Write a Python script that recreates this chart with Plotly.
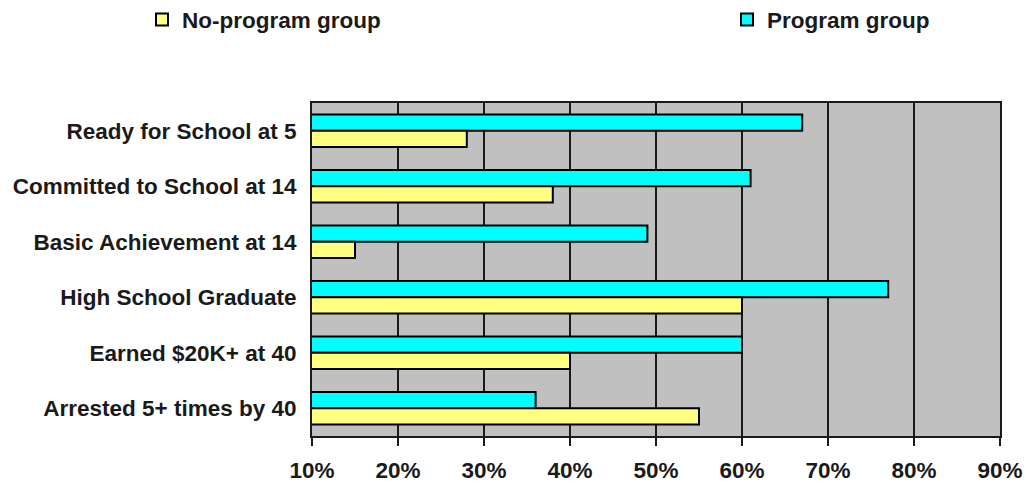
import plotly.graph_objects as go

categories = [
    "Ready for School at 5",
    "Committed to School at 14",
    "Basic Achievement at 14",
    "High School Graduate",
    "Earned $20K+ at 40",
    "Arrested 5+ times by 40",
]
program_group = [67, 61, 49, 77, 60, 36]
no_program_group = [28, 38, 15, 60, 40, 55]
x_tick_values = [10, 20, 30, 40, 50, 60, 70, 80, 90]
x_tick_labels = ["10%", "20%", "30%", "40%", "50%", "60%", "70%", "80%", "90%"]

FONT = "Liberation Sans"
FS = 22.5
TXT = "#1a1a1a"

fig = go.Figure()
fig.add_trace(go.Bar(
    y=categories, x=program_group, orientation="h", name="Program group",
    marker=dict(color="#00FFFF", line=dict(color="#000000", width=2)),
    legend="legend2", showlegend=True,
))
fig.add_trace(go.Bar(
    y=categories, x=no_program_group, orientation="h", name="No-program group",
    marker=dict(color="#FFFF80", line=dict(color="#000000", width=2)),
    legend="legend", showlegend=True,
))

legend_common = dict(
    orientation="h",
    xref="container", yref="container",
    y=0.959, xanchor="left", yanchor="middle",
    font=dict(family=FONT, size=FS, color=TXT, weight="bold"),
    bgcolor="rgba(0,0,0,0)",
)

fig.update_layout(
    width=1026, height=483,
    showlegend=True,
    margin=dict(l=312, r=26, t=103, b=47, pad=0, autoexpand=False),
    paper_bgcolor="white",
    plot_bgcolor="#C0C0C0",
    barmode="group",
    bargap=0.41,
    bargroupgap=0,
    font=dict(family=FONT, size=FS, color=TXT, weight="bold"),
    legend=dict(x=0.1384, **legend_common),
    legend2=dict(x=0.7086, **legend_common),
    xaxis=dict(
        range=[10, 90], tickvals=x_tick_values, ticktext=x_tick_labels,
        showgrid=True, gridcolor="#1a1a1a", gridwidth=2,
        showline=True, linecolor="#1a1a1a", linewidth=2, mirror=True,
        ticks="outside", ticklen=8, tickwidth=2, tickcolor="#1a1a1a",
        ticklabelstandoff=5, zeroline=False, automargin=False,
        tickfont=dict(family=FONT, size=FS, color=TXT, weight="bold"),
    ),
    yaxis=dict(
        autorange="reversed", type="category",
        showgrid=False,
        showline=True, linecolor="#1a1a1a", linewidth=2, mirror=True,
        ticks="", ticklabelstandoff=9, automargin=False,
        tickfont=dict(family=FONT, size=FS, color=TXT, weight="bold"),
    ),
)

fig.write_html(
    "out.html",
    config={"displayModeBar": False},
    post_script="document.body.style.margin='0';document.body.style.overflow='hidden';",
)
